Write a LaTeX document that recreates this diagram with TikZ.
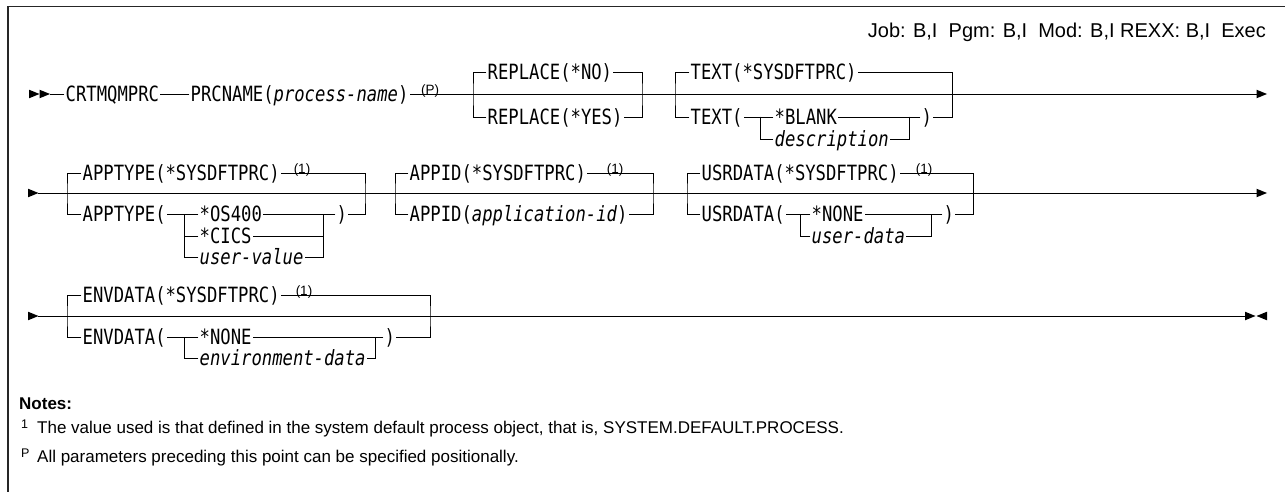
\documentclass[tikz,border=0pt]{standalone}
\usepackage{fontspec}
\setmainfont{Liberation Sans}
\newfontfamily\railfont{DejaVu Sans Mono}[FakeStretch=0.82]
\usetikzlibrary{calc}

\tikzset{
  rail/.style={line width=0.9pt, line cap=rect},
  kw/.style={font=\railfont\fontsize{21}{24}\selectfont, inner xsep=1.5pt,
    inner ysep=0pt, text height=15.2pt, text depth=0pt, anchor=west},
  sup/.style={font=\fontsize{13.5}{14}\selectfont, inner sep=0pt, anchor=base},
  hdr/.style={font=\fontsize{20}{22}\selectfont, inner sep=0pt, anchor=base east},
  note/.style={font=\fontsize{17}{20}\selectfont, inner sep=0pt, anchor=base west},
  notemark/.style={font=\fontsize{12.5}{14}\selectfont, inner sep=0pt, anchor=base west},
  headR/.pic={\fill (0,-4.3) -- (10.5,0) -- (0,4.3) -- cycle;},
  headL/.pic={\fill (0,-4.3) -- (-10.5,0) -- (0,4.3) -- cycle;},
}

\begin{document}
\begin{tikzpicture}[x=1pt, y=-1pt]
\useasboundingbox (0,0) rectangle (1285,492);

% frame
\draw[line width=1.4pt, black!85] (8,492) -- (8,6.5) -- (1285,6.5);

% header line
\node[hdr] (hdrtxt) at (1266,38) {Job: B,I\ \ Pgm: B,I\ \ Mod: B,I REXX: B,I\ \ Exec};

% ---------------- row 1 ----------------
\coordinate (r1a) at (29,94);
\coordinate (r1b) at (39.5,94);
\coordinate (r1s) at (50,94);
\coordinate (r1e) at (1256.5,94);
\pic at (r1a) {headR};
\pic at (r1b) {headR};
\pic at (r1e) {headR};

\node[kw] (crt) at (64,94) {CRTMQMPRC};
\node[kw] (prc) at (189,94) {PRCNAME(\textit{process-name})};
\node[sup] (markP) at (430,94.5) {(P)};
\draw[rail] (r1s) -- (crt.west);
\draw[rail] (crt.east) -- (prc.west);
\draw[rail] (prc.east) -- (r1e);

% REPLACE
\coordinate (b1L) at (473,94);
\coordinate (b1R) at (642,94);
\node[kw] (rpno) at (486,72) {REPLACE(*NO)};
\node[kw] (rpyes) at (486,117) {REPLACE(*YES)};
\draw[rail] (rpno.west) -| (b1L) |- (rpyes.west);
\draw[rail] (rpno.east) -| (b1R) |- (rpyes.east);

% TEXT
\coordinate (b2L) at (675,94);
\coordinate (b2R) at (952,94);
\coordinate (s1L) at (760,117);
\coordinate (s1R) at (909,117);
\node[kw] (txdef) at (689,72) {TEXT(*SYSDFTPRC)};
\node[kw] (txo) at (689,117) {TEXT(};
\node[kw] (blank) at (773,117) {*BLANK};
\node[kw] (descr) at (773,139) {\itshape description};
\node[kw] (txc) at (920,117) {)};
\draw[rail] (txdef.west) -| (b2L) |- (txo.west);
\draw[rail] (txdef.east) -| (b2R) |- (txc.east);
\draw[rail] (txo.east) -- (blank.west);
\draw[rail] (s1L) |- (descr.west);
\draw[rail] (blank.east) -- (txc.west);
\draw[rail] (descr.east) -| (s1R);

% ---------------- row 2 ----------------
\coordinate (r2a) at (28,193);
\coordinate (r2s) at (38.5,193);
\coordinate (r2e) at (1256.5,193);
\pic at (r2a) {headR};
\pic at (r2e) {headR};
\draw[rail] (r2s) -- (r2e);

% APPTYPE
\coordinate (b3L) at (67,193);
\coordinate (b3R) at (365,193);
\coordinate (s2L) at (184,214);
\coordinate (s2R) at (323,214);
\node[kw] (atdef) at (81,173) {APPTYPE(*SYSDFTPRC)};
\node[sup] (n1a) at (302,173.5) {(1)};
\node[kw] (ato) at (81,214) {APPTYPE(};
\node[kw] (os) at (198,214) {*OS400};
\node[kw] (cics) at (198,236) {*CICS};
\node[kw] (uval) at (198,257) {\itshape user-value};
\node[kw] (atc) at (335,214) {)};
\draw[rail] (atdef.west) -| (b3L) |- (ato.west);
\draw[rail] (atdef.east) -| (b3R) |- (atc.east);
\draw[rail] (ato.east) -- (os.west);
\draw[rail] (os.east) -- (atc.west);
\draw[rail] (s2L) |- (uval.west);
\draw[rail] (s2L |- cics.west) -- (cics.west);
\draw[rail] (cics.east) -- (cics.east -| s2R);
\draw[rail] (uval.east) -| (s2R);

% APPID
\coordinate (b4L) at (395,193);
\coordinate (b4R) at (653,193);
\node[kw] (aidef) at (408,173) {APPID(*SYSDFTPRC)};
\node[sup] (n1b) at (615,173.5) {(1)};
\node[kw] (aid) at (408,214) {APPID(\textit{application-id})};
\draw[rail] (aidef.west) -| (b4L) |- (aid.west);
\draw[rail] (aidef.east) -| (b4R) |- (aid.east);

% USRDATA
\coordinate (b5L) at (687,193);
\coordinate (b5R) at (973,193);
\coordinate (s3L) at (800,214);
\coordinate (s3R) at (931,214);
\node[kw] (uddef) at (700,173) {USRDATA(*SYSDFTPRC)};
\node[sup] (n1c) at (924,173.5) {(1)};
\node[kw] (udo) at (700,214) {USRDATA(};
\node[kw] (udnone) at (810,214) {*NONE};
\node[kw] (udval) at (810,236) {\itshape user-data};
\node[kw] (udc) at (942,214) {)};
\draw[rail] (uddef.west) -| (b5L) |- (udo.west);
\draw[rail] (uddef.east) -| (b5R) |- (udc.east);
\draw[rail] (udo.east) -- (udnone.west);
\draw[rail] (udnone.east) -- (udc.west);
\draw[rail] (s3L) |- (udval.west);
\draw[rail] (udval.east) -| (s3R);

% ---------------- row 3 ----------------
\coordinate (r3a) at (28,316);
\coordinate (r3s) at (38.5,316);
\coordinate (r3e) at (1245,316);
\coordinate (r3z) at (1267,316);
\pic at (r3a) {headR};
\pic at (r3e) {headR};
\pic at (r3z) {headL};
\draw[rail] (r3s) -- (r3e);

% ENVDATA
\coordinate (b6L) at (67,316);
\coordinate (b6R) at (430,316);
\coordinate (s4L) at (184,337);
\coordinate (s4R) at (375,337);
\node[kw] (eddef) at (81,295) {ENVDATA(*SYSDFTPRC)};
\node[sup] (n1d) at (304,295.5) {(1)};
\node[kw] (edo) at (81,337) {ENVDATA(};
\node[kw] (ednone) at (198,337) {*NONE};
\node[kw] (edval) at (198,358) {\itshape environment-data};
\node[kw] (edc) at (383,337) {)};
\draw[rail] (eddef.west) -| (b6L) |- (edo.west);
\draw[rail] (eddef.east) -| (b6R) |- (edc.east);
\draw[rail] (edo.east) -- (ednone.west);
\draw[rail] (ednone.east) -- (edc.west);
\draw[rail] (s4L) |- (edval.west);
\draw[rail] (edval.east) -| (s4R);

% ---------------- notes ----------------
\node[note, font=\bfseries\fontsize{17}{20}\selectfont] (notes) at (19,409) {Notes:};
\node[notemark] (m1) at (21,428) {1};
\node[note] (t1) at (37,433) {The value used is that defined in the system default process object, that is, SYSTEM.DEFAULT.PROCESS.};
\node[notemark] (mP) at (21,457) {P};
\node[note] (tP) at (37,462) {All parameters preceding this point can be specified positionally.};
\end{tikzpicture}
\end{document}
